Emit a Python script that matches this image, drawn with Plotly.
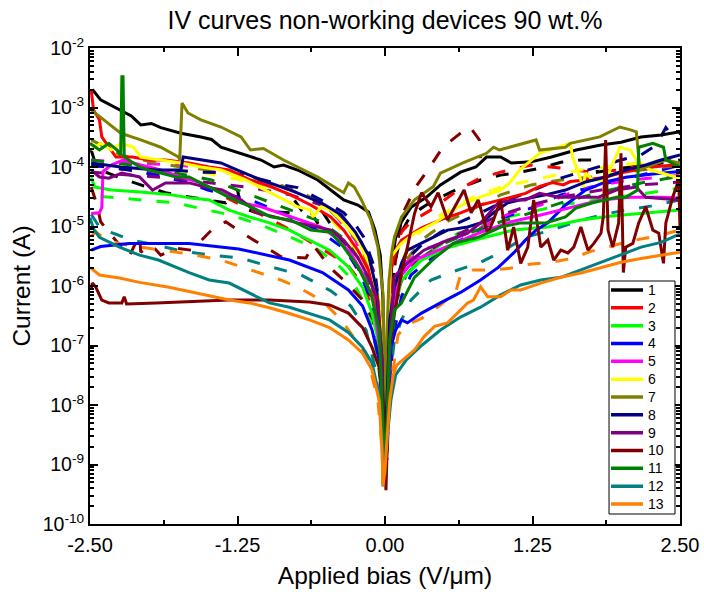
import plotly.graph_objects as go

TITLE = "IV curves non-working devices 90 wt.%"
X_TITLE = "Applied bias (V/\u03bcm)"
Y_TITLE = "Current (A)"

device_labels = ["1", "2", "3", "4", "5", "6", "7", "8", "9", "10", "11", "12", "13"]
device_colors = ["#000000", "#ff0000", "#00ff00", "#0000ff", "#ff00ff", "#ffff00",
                 "#808000", "#000080", "#800080", "#800000", "#008000", "#008080", "#ff8000"]

bias_ticks = [-2.5, -1.25, 0.0, 1.25, 2.5]
bias_ticktext = ["-2.50", "-1.25", "0.00", "1.25", "2.50"]
current_ticks = [1e-10, 1e-9, 1e-8, 1e-7, 1e-6, 1e-5, 1e-4, 1e-3, 1e-2]
current_ticktext = ["10<sup>-10</sup>", "10<sup>-9</sup>", "10<sup>-8</sup>", "10<sup>-7</sup>",
                    "10<sup>-6</sup>", "10<sup>-5</sup>", "10<sup>-4</sup>", "10<sup>-3</sup>",
                    "10<sup>-2</sup>"]

# (bias V/um, current A) for each device: solid = first sweep, dash = second sweep
dev1_solid = [(-2.49, 1.7e-3), (-2.47, 1.9e-3), (-2.41, 1.34e-3), (-2.33, 1.1e-3), (-2.24, 9.1e-4),
              (-2.15, 7.2e-4), (-2.07, 5.1e-4), (-1.98, 5.4e-4), (-1.90, 4.6e-4), (-1.73, 3.7e-4),
              (-1.56, 3.2e-4), (-1.47, 2.9e-4), (-1.39, 2.15e-4), (-1.22, 1.7e-4), (-1.05, 1.31e-4),
              (-0.94, 1.0e-4), (-0.86, 1.08e-4), (-0.74, 8.9e-5), (-0.57, 6.05e-5), (-0.46, 4.1e-5),
              (-0.35, 2.8e-5), (-0.23, 2.3e-5), (-0.14, 1.75e-5), (-0.085, 8.7e-6), (-0.04, 3.3e-6),
              (-0.017, 5.8e-7), (-0.008, 1.2e-8), (0.0, 8.1e-10), (0.017, 2.6e-8), (0.034, 5.8e-7),
              (0.06, 2.5e-6), (0.09, 6.6e-6), (0.14, 1.2e-5), (0.22, 2.1e-5), (0.35, 3.1e-5),
              (0.47, 5.0e-5), (0.64, 8.2e-5), (0.77, 1.0e-4), (0.86, 1.47e-4), (0.98, 1.47e-4),
              (1.07, 1.17e-4), (1.24, 1.22e-4), (1.41, 1.47e-4), (1.62, 1.93e-4), (1.83, 2.34e-4),
              (2.00, 2.6e-4), (2.17, 3.2e-4), (2.34, 3.45e-4), (2.50, 3.9e-4)]
dev1_dash = [(-2.49, 1.93e-4), (-2.45, 1.08e-4), (-2.41, 8.9e-5), (-2.24, 6.5e-5), (-2.07, 5.0e-5),
             (-1.86, 3.7e-5), (-1.69, 3.2e-5), (-1.52, 2.8e-5), (-1.35, 2.5e-5), (-1.25, 4.1e-5),
             (-1.22, 2.1e-5), (-1.09, 1.7e-5), (-0.92, 1.75e-5), (-0.80, 1.7e-5), (-0.77, 2.8e-5),
             (-0.71, 1.9e-5), (-0.67, 2.3e-5), (-0.56, 1.06e-5), (-0.53, 1.75e-5), (-0.37, 5.9e-6),
             (-0.25, 2.5e-6), (-0.14, 8.6e-7), (-0.06, 1.8e-7), (-0.017, 5.6e-9), (-0.008, 5.5e-10),
             (0.017, 3.8e-9), (0.04, 2.7e-7), (0.08, 2.25e-6), (0.14, 8.1e-6), (0.22, 1.56e-5),
             (0.35, 2.3e-5), (0.47, 3.1e-5), (0.64, 4.5e-5), (0.81, 6.05e-5), (0.98, 7.3e-5),
             (1.15, 8.2e-5), (1.32, 9.6e-5), (1.49, 1.2e-4), (1.66, 1.31e-4), (1.79, 1.31e-4),
             (1.80, 8.2e-5), (2.00, 9.6e-5), (2.25, 1.08e-4), (2.50, 1.31e-4)]

dev2_solid = [(-2.49, 1.97e-3), (-2.47, 9.1e-4), (-2.42, 6.2e-4), (-2.40, 3.2e-4), (-2.28, 1.47e-4),
              (-2.14, 1.47e-4), (-2.00, 1.31e-4), (-1.86, 1.31e-4), (-1.66, 1.17e-4), (-1.49, 1.0e-4),
              (-1.32, 8.9e-5), (-1.14, 6.05e-5), (-0.97, 4.7e-5), (-0.80, 3.4e-5), (-0.63, 2.3e-5),
              (-0.46, 1.45e-5), (-0.35, 8.7e-6), (-0.23, 4.0e-6), (-0.14, 1.86e-6), (-0.08, 5.8e-7),
              (-0.034, 1.0e-7), (-0.017, 2.6e-9), (0.0, 4.6e-10), (0.017, 5.6e-9), (0.034, 2.7e-7),
              (0.05, 1.86e-6), (0.09, 4.0e-6), (0.14, 5.9e-6), (0.31, 9.5e-6), (0.47, 1.29e-5),
              (0.64, 1.7e-5), (0.81, 2.3e-5), (0.98, 2.8e-5), (1.19, 3.6e-5), (1.31, 4.7e-5),
              (1.42, 5.5e-5), (1.51, 5.0e-5), (1.57, 5.7e-5), (1.70, 6.05e-5), (1.87, 6.7e-5),
              (1.99, 7.9e-5), (2.13, 8.9e-5), (2.27, 1.0e-4), (2.44, 1.08e-4), (2.50, 1.04e-4)]
dev2_dash = [(-2.49, 1.08e-4), (-2.15, 8.9e-5), (-1.81, 6.8e-5), (-1.47, 4.1e-5), (-1.22, 2.3e-5),
             (-1.01, 1.45e-5), (-0.80, 8.7e-6), (-0.54, 4.3e-6), (-0.33, 2.4e-6), (-0.20, 1.15e-6),
             (-0.10, 3.95e-7), (-0.034, 3.9e-8), (-0.008, 8.1e-10), (0.017, 3.8e-9), (0.04, 1.8e-7),
             (0.08, 3.3e-6), (0.14, 8.1e-6), (0.22, 1.2e-5), (0.39, 1.9e-5), (0.62, 4.1e-5),
             (0.81, 6.6e-5), (0.98, 8.2e-5), (1.24, 1.08e-4), (1.49, 9.6e-5), (1.75, 8.2e-5),
             (2.00, 8.9e-5), (2.25, 1.17e-4), (2.50, 1.47e-4)]

dev3_solid = [(-2.49, 6.7e-5), (-2.46, 4.6e-5), (-2.32, 4.1e-5), (-2.07, 3.8e-5), (-1.81, 3.4e-5),
              (-1.64, 3.0e-5), (-1.49, 2.8e-5), (-1.32, 1.89e-5), (-1.15, 1.45e-5), (-0.98, 1.15e-5),
              (-0.81, 8.7e-6), (-0.64, 5.9e-6), (-0.47, 4.0e-6), (-0.31, 2.1e-6), (-0.19, 9.5e-7),
              (-0.11, 3.5e-7), (-0.05, 1.0e-7), (-0.025, 1.2e-8), (-0.008, 8.1e-10), (0.017, 2.6e-9),
              (0.04, 8.4e-8), (0.08, 5.8e-7), (0.14, 1.26e-6), (0.31, 2.73e-6), (0.53, 4.4e-6),
              (0.81, 6.3e-6), (1.09, 8.7e-6), (1.38, 9.8e-6), (1.66, 1.29e-5), (1.92, 1.5e-5),
              (2.17, 1.65e-5), (2.50, 1.89e-5)]
dev3_dash = [(-2.41, 3.2e-5), (-2.07, 2.8e-5), (-1.77, 2.5e-5), (-1.56, 2.0e-5), (-1.31, 1.56e-5),
             (-1.05, 1.06e-5), (-0.80, 6.6e-6), (-0.58, 4.2e-6), (-0.42, 2.5e-6), (-0.29, 1.36e-6),
             (-0.19, 5.8e-7), (-0.10, 1.82e-7), (-0.04, 2.6e-8), (-0.008, 8.1e-10), (0.017, 1.75e-9),
             (0.04, 3.9e-8), (0.08, 3.95e-7), (0.14, 1.26e-6), (0.31, 3.0e-6), (0.62, 7.7e-6),
             (0.75, 8.7e-6), (0.90, 1.29e-5), (1.18, 1.65e-5), (1.49, 2.3e-5), (1.83, 2.8e-5),
             (2.17, 3.5e-5), (2.50, 4.4e-5)]

dev4_solid = [(-2.49, 4.0e-6), (-2.41, 4.6e-6), (-2.17, 5.2e-6), (-1.66, 5.2e-6), (-1.24, 4.2e-6),
              (-0.81, 2.73e-6), (-0.53, 1.68e-6), (-0.31, 8.6e-7), (-0.19, 4.6e-7), (-0.11, 1.82e-7),
              (-0.05, 5.7e-8), (-0.025, 8.3e-9), (-0.008, 5.5e-10), (0.017, 1.75e-9), (0.034, 1.8e-8),
              (0.05, 9.3e-8), (0.09, 1.82e-7), (0.14, 2.69e-7), (0.19, 2.4e-7), (0.31, 3.5e-7),
              (0.47, 5.2e-7), (0.64, 7.8e-7), (0.81, 1.26e-6), (0.96, 2.05e-6), (1.09, 3.6e-6),
              (1.19, 5.9e-6), (1.28, 8.7e-6), (1.38, 1.15e-5), (1.53, 2.3e-5), (1.70, 4.1e-5),
              (1.87, 5.6e-5), (2.04, 6.7e-5), (2.27, 7.6e-5), (2.50, 8.4e-5)]
dev4_dash = [(-2.49, 1.08e-4), (-2.17, 8.9e-5), (-1.94, 7.3e-5), (-1.67, 5.5e-5), (-1.50, 4.1e-5),
             (-1.14, 2.8e-5), (-0.88, 1.7e-5), (-0.71, 1.2e-5), (-0.54, 8.0e-6), (-0.33, 4.0e-6),
             (-0.23, 1.86e-6), (-0.18, 1.15e-6), (-0.12, 5.8e-7), (-0.05, 8.4e-8), (-0.017, 3.8e-9),
             (0.017, 1.19e-9), (0.04, 2.6e-8), (0.08, 1.82e-7), (0.14, 6.6e-7), (0.22, 1.53e-6),
             (0.35, 2.5e-6), (0.56, 4.9e-6), (0.77, 8.0e-6), (0.98, 1.36e-5), (1.24, 2.05e-5),
             (1.49, 3.4e-5), (1.75, 4.6e-5), (2.00, 6.05e-5), (2.25, 8.0e-5), (2.50, 1.08e-4)]

dev5_solid = [(-2.49, 1.66e-5), (-2.42, 1.7e-5), (-2.40, 2.1e-5), (-2.39, 8.4e-5), (-2.32, 1.08e-4),
              (-2.22, 1.31e-4), (-2.07, 1.08e-4), (-1.90, 8.9e-5), (-1.73, 6.8e-5), (-1.56, 5.4e-5),
              (-1.39, 3.7e-5), (-1.22, 2.5e-5), (-1.05, 2.15e-5), (-0.88, 1.66e-5), (-0.71, 1.29e-5),
              (-0.54, 9.8e-6), (-0.42, 6.6e-6), (-0.29, 3.55e-6), (-0.19, 1.65e-6), (-0.10, 5.8e-7),
              (-0.04, 8.4e-8), (-0.008, 8.1e-10), (0.017, 2.6e-9), (0.04, 8.4e-8), (0.08, 5.8e-7),
              (0.14, 1.53e-6), (0.25, 2.73e-6), (0.39, 3.6e-6), (0.56, 4.9e-6), (0.81, 8.0e-6),
              (1.07, 1.2e-5), (1.32, 1.56e-5), (1.58, 2.1e-5), (1.83, 2.8e-5), (2.08, 3.1e-5),
              (2.34, 3.1e-5), (2.50, 3.0e-5)]
dev5_dash = [(-2.49, 1.31e-4), (-2.15, 1.17e-4), (-1.73, 1.08e-4), (-1.39, 8.2e-5), (-1.14, 6.8e-5),
             (-0.88, 4.6e-5), (-0.63, 3.1e-5), (-0.42, 1.56e-5), (-0.25, 5.9e-6), (-0.12, 1.53e-6),
             (-0.034, 5.7e-8), (-0.008, 8.1e-10), (0.017, 3.8e-9), (0.05, 1.82e-7), (0.09, 1.04e-6),
             (0.18, 2.5e-6), (0.31, 4.0e-6), (0.56, 5.9e-6), (0.81, 9.5e-6), (1.07, 1.7e-5),
             (1.32, 2.3e-5), (1.58, 3.7e-5), (1.83, 5.0e-5), (2.08, 6.05e-5), (2.34, 6.8e-5),
             (2.50, 7.3e-5)]

dev6_solid = [(-2.49, 1.93e-4), (-2.41, 2.5e-4), (-2.32, 1.93e-4), (-2.24, 2.5e-4), (-2.13, 2.15e-4),
              (-2.07, 1.47e-4), (-1.90, 1.31e-4), (-1.73, 1.17e-4), (-1.56, 1.0e-4), (-1.39, 8.9e-5),
              (-1.18, 6.05e-5), (-0.97, 3.65e-5), (-0.80, 2.5e-5), (-0.74, 2.15e-5), (-0.63, 1.89e-5),
              (-0.61, 1.45e-5), (-0.54, 2.15e-5), (-0.46, 1.89e-5), (-0.35, 1.15e-5), (-0.23, 5.9e-6),
              (-0.12, 2.1e-6), (-0.05, 5.8e-7), (-0.017, 5.7e-8), (0.0, 8.1e-10), (0.017, 5.6e-9),
              (0.034, 5.8e-7), (0.05, 3.1e-6), (0.14, 5.2e-6), (0.25, 7.7e-6), (0.42, 1.15e-5),
              (0.62, 2.15e-5), (0.81, 3.15e-5), (0.98, 4.1e-5), (1.06, 5.5e-5), (1.14, 8.9e-5),
              (1.31, 1.7e-4), (1.57, 2.5e-4), (1.59, 1.47e-4), (1.68, 4.6e-5), (1.70, 7.9e-5),
              (1.76, 6.05e-5), (1.87, 6.05e-5), (1.99, 2.15e-4), (2.08, 1.93e-4), (2.13, 1.31e-4),
              (2.25, 8.9e-5), (2.50, 6.5e-5)]
dev6_dash = [(-2.49, 1.08e-4), (-2.07, 9.6e-5), (-1.56, 8.2e-5), (-1.22, 6.05e-5), (-0.88, 4.1e-5),
             (-0.54, 1.89e-5), (-0.33, 7.2e-6), (-0.19, 2.5e-6), (-0.085, 5.8e-7), (-0.025, 2.6e-8),
             (-0.008, 8.1e-10), (0.017, 2.6e-9), (0.05, 1.82e-7), (0.11, 1.86e-6), (0.22, 5.9e-6),
             (0.47, 1.56e-5), (0.73, 3.0e-5), (0.98, 4.6e-5), (1.32, 6.5e-5), (1.66, 8.9e-5),
             (2.00, 1.08e-4), (2.34, 1.31e-4), (2.50, 1.41e-4)]

dev7_solid = [(-2.49, 9.1e-4), (-2.41, 6.9e-4), (-2.24, 3.7e-4), (-2.07, 2.85e-4), (-1.90, 2.15e-4),
              (-1.75, 1.47e-4), (-1.74, 1.31e-4), (-1.72, 1.19e-3), (-1.67, 8.1e-4), (-1.56, 6.2e-4),
              (-1.39, 4.7e-4), (-1.22, 3.2e-4), (-1.14, 1.93e-4), (-1.03, 2.05e-4), (-0.86, 1.31e-4),
              (-0.74, 1.0e-4), (-0.57, 6.8e-5), (-0.35, 3.7e-5), (-0.31, 5.4e-5), (-0.26, 4.6e-5),
              (-0.20, 2.8e-5), (-0.12, 1.29e-5), (-0.06, 4.5e-6), (-0.017, 7.5e-7), (0.0, 5.6e-9),
              (0.017, 1.82e-7), (0.034, 1.26e-6), (0.06, 4.0e-6), (0.08, 6.6e-6), (0.14, 1.45e-5),
              (0.25, 2.8e-5), (0.41, 4.7e-5), (0.47, 7.9e-5), (0.66, 1.17e-4), (0.86, 1.7e-4),
              (0.92, 2.15e-4), (0.97, 1.93e-4), (1.28, 2.85e-4), (1.31, 1.93e-4), (1.53, 2.15e-4),
              (1.57, 2.5e-4), (1.82, 3.2e-4), (1.99, 4.7e-4), (2.08, 4.2e-4), (2.13, 3.9e-4),
              (2.16, 8.9e-5), (2.21, 1.0e-4), (2.38, 1.31e-4), (2.50, 1.17e-4)]
dev7_dash = [(-2.49, 2.85e-4), (-2.24, 1.59e-4), (-1.98, 1.22e-4), (-1.73, 1.0e-4), (-1.47, 8.9e-5),
             (-1.22, 7.3e-5), (-0.97, 5.6e-5), (-0.71, 3.8e-5), (-0.50, 2.15e-5), (-0.33, 1.06e-5),
             (-0.19, 4.0e-6), (-0.09, 1.04e-6), (-0.034, 1.24e-7), (-0.008, 1.75e-9), (0.017, 3.8e-9),
             (0.05, 1.82e-7), (0.10, 1.26e-6), (0.18, 2.73e-6), (0.31, 5.9e-6), (0.52, 1.2e-5),
             (0.73, 1.89e-5), (0.98, 3.4e-5), (1.24, 5.0e-5), (1.49, 6.05e-5), (1.83, 7.0e-5),
             (2.17, 8.9e-5), (2.50, 1.08e-4)]

dev8_solid = [(-2.49, 1.17e-4), (-2.24, 1.0e-4), (-1.94, 8.9e-5), (-1.73, 8.9e-5), (-1.71, 1.47e-4),
              (-1.56, 1.31e-4), (-1.39, 1.17e-4), (-1.25, 8.9e-5), (-1.05, 6.05e-5), (-0.80, 4.1e-5),
              (-0.54, 2.5e-5), (-0.37, 1.56e-5), (-0.25, 8.0e-6), (-0.14, 3.3e-6), (-0.07, 8.6e-7),
              (-0.025, 5.7e-8), (-0.008, 1.19e-9), (0.017, 1.2e-8), (0.04, 2.7e-7), (0.08, 9.5e-7),
              (0.14, 2.4e-6), (0.19, 4.0e-6), (0.36, 5.9e-6), (0.53, 8.7e-6), (0.70, 9.8e-6),
              (0.81, 1.15e-5), (0.92, 1.7e-5), (1.04, 2.5e-5), (1.15, 2.8e-5), (1.36, 3.4e-5),
              (1.53, 4.1e-5), (1.70, 5.6e-5), (1.87, 6.8e-5), (2.04, 8.9e-5), (2.21, 1.08e-4),
              (2.34, 1.31e-4), (2.50, 1.59e-4)]
dev8_dash = [(-2.49, 1.08e-4), (-2.15, 8.9e-5), (-1.81, 8.9e-5), (-1.56, 8.2e-5), (-1.28, 7.9e-5),
             (-1.03, 6.05e-5), (-0.88, 5.0e-5), (-0.74, 4.5e-5), (-0.60, 3.2e-5), (-0.46, 2.3e-5),
             (-0.35, 1.7e-5), (-0.25, 1.06e-5), (-0.18, 6.6e-6), (-0.09, 2.05e-6), (-0.034, 2.7e-7),
             (-0.008, 1.19e-9), (0.017, 3.8e-9), (0.05, 1.24e-7), (0.10, 8.6e-7), (0.18, 2.73e-6),
             (0.31, 4.9e-6), (0.47, 8.0e-6), (0.64, 1.2e-5), (0.81, 1.7e-5), (0.98, 2.5e-5),
             (1.15, 3.4e-5), (1.32, 4.6e-5), (1.49, 6.5e-5), (1.66, 8.2e-5), (1.83, 1.04e-4),
             (2.00, 1.31e-4), (2.17, 1.59e-4), (2.30, 2.34e-4), (2.38, 4.6e-4), (2.44, 3.2e-4),
             (2.50, 3.7e-4)]

dev9_solid = [(-2.49, 8.9e-5), (-2.42, 6.8e-5), (-2.34, 6.5e-5), (-2.23, 7.9e-5), (-2.08, 6.8e-5),
              (-1.97, 4.1e-5), (-1.86, 5.4e-5), (-1.66, 5.4e-5), (-1.52, 4.6e-5), (-1.38, 4.1e-5),
              (-1.22, 2.8e-5), (-1.08, 1.7e-5), (-0.91, 1.4e-5), (-0.74, 1.15e-5), (-0.57, 9.8e-6),
              (-0.46, 8.7e-6), (-0.35, 5.9e-6), (-0.23, 3.0e-6), (-0.14, 1.4e-6), (-0.06, 5.8e-7),
              (-0.025, 5.7e-8), (-0.008, 1.19e-9), (0.017, 2.6e-9), (0.04, 1.24e-7), (0.08, 1.45e-6),
              (0.19, 2.4e-6), (0.33, 4.0e-6), (0.53, 5.9e-6), (0.70, 7.7e-6), (0.81, 1.15e-5),
              (0.96, 2.5e-5), (1.09, 2.8e-5), (1.19, 2.8e-5), (1.31, 3.6e-5), (1.47, 3.1e-5),
              (1.59, 3.1e-5), (1.81, 3.1e-5), (1.96, 4.1e-5), (2.13, 4.6e-5), (2.21, 3.1e-5),
              (2.50, 2.8e-5)]
dev9_dash = [(-2.49, 8.2e-5), (-2.15, 7.3e-5), (-1.81, 6.5e-5), (-1.47, 5.4e-5), (-1.14, 4.5e-5),
             (-0.80, 3.4e-5), (-0.54, 2.3e-5), (-0.35, 1.29e-5), (-0.20, 5.5e-6), (-0.10, 1.86e-6),
             (-0.034, 1.82e-7), (-0.008, 8.1e-10), (0.017, 2.6e-9), (0.05, 1.24e-7), (0.09, 7.1e-7),
             (0.18, 1.86e-6), (0.31, 3.3e-6), (0.52, 5.9e-6), (0.73, 9.5e-6), (0.98, 1.56e-5),
             (1.24, 2.3e-5), (1.49, 3.1e-5), (1.83, 4.1e-5), (2.17, 5.0e-5), (2.50, 5.6e-5)]

dev10_solid = [(-2.49, 8.6e-7), (-2.48, 1.12e-6), (-2.45, 9.5e-7), (-2.40, 5.8e-7), (-2.34, 5.2e-7),
               (-2.23, 5.2e-7), (-2.21, 6.6e-7), (-2.19, 5.0e-7), (-1.94, 5.2e-7), (-1.66, 5.4e-7),
               (-1.32, 5.8e-7), (-0.98, 5.8e-7), (-0.81, 5.6e-7), (-0.64, 5.4e-7), (-0.47, 4.8e-7),
               (-0.31, 3.5e-7), (-0.19, 2.0e-7), (-0.11, 9.3e-8), (-0.05, 4.3e-8), (-0.017, 1.2e-8),
               (0.008, 3.7e-10), (0.025, 5.6e-9), (0.034, 7.5e-8), (0.08, 3.5e-7), (0.14, 1.7e-6),
               (0.19, 4.5e-6), (0.25, 1.65e-5), (0.31, 3.7e-5), (0.39, 2.15e-5), (0.45, 3.7e-5),
               (0.53, 1.29e-5), (0.62, 2.8e-5), (0.67, 4.1e-5), (0.73, 1.7e-5), (0.79, 2.8e-5),
               (0.87, 7.7e-6), (0.92, 1.29e-5), (0.98, 2.8e-5), (1.04, 4.0e-6), (1.09, 9.8e-6),
               (1.15, 2.4e-6), (1.21, 4.5e-6), (1.26, 2.8e-5), (1.32, 4.5e-6), (1.38, 5.9e-6),
               (1.43, 2.73e-6), (1.49, 4.0e-6), (1.55, 3.6e-6), (1.60, 4.5e-6), (1.66, 9.8e-6),
               (1.72, 4.0e-6), (1.77, 5.2e-6), (1.83, 7.7e-6), (1.85, 1.45e-5), (1.87, 2.85e-4),
               (1.89, 8.7e-6), (1.93, 4.5e-6), (1.98, 1.15e-5), (2.00, 1.7e-4), (2.02, 1.68e-6),
               (2.04, 4.5e-6), (2.10, 5.2e-6), (2.15, 1.15e-5), (2.21, 2.15e-5), (2.27, 8.7e-6),
               (2.32, 7.7e-6), (2.36, 2.4e-6), (2.38, 1.15e-5), (2.44, 3.2e-5), (2.49, 6.05e-5),
               (2.50, 8.7e-6)]
dev10_dash = [(-2.49, 4.6e-5), (-2.44, 2.3e-5), (-2.41, 1.2e-5), (-2.32, 7.2e-6), (-2.17, 3.1e-6),
              (-2.08, 7.2e-6), (-2.07, 3.7e-6), (-1.98, 4.9e-6), (-1.90, 3.3e-6), (-1.77, 4.3e-6),
              (-1.64, 4.0e-6), (-1.47, 8.7e-6), (-1.35, 1.2e-5), (-1.22, 8.0e-6), (-1.05, 4.9e-6),
              (-0.88, 3.1e-6), (-0.67, 2.95e-6), (-0.61, 4.9e-6), (-0.46, 2.0e-6), (-0.33, 1.15e-6),
              (-0.20, 6.1e-7), (-0.10, 2.69e-7), (-0.034, 3.9e-8), (-0.008, 8.1e-10), (0.017, 2.6e-9),
              (0.04, 1.82e-7), (0.08, 1.86e-6), (0.11, 5.9e-6), (0.15, 1.65e-5), (0.26, 4.6e-5),
              (0.38, 1.0e-4), (0.49, 2.15e-4), (0.64, 3.7e-4), (0.72, 4.7e-4), (0.80, 2.85e-4),
              (0.81, 1.41e-4)]

dev11_solid = [(-2.50, 2.5e-4), (-2.42, 1.93e-4), (-2.34, 2.5e-4), (-2.27, 1.93e-4), (-2.24, 1.59e-4),
               (-2.23, 3.3e-3), (-2.22, 3.3e-3), (-2.21, 1.47e-4), (-2.08, 1.0e-4), (-2.00, 8.9e-5),
               (-1.77, 6.8e-5), (-1.66, 6.8e-5), (-1.49, 4.6e-5), (-1.31, 3.0e-5), (-1.14, 2.15e-5),
               (-0.97, 1.45e-5), (-0.80, 1.29e-5), (-0.63, 8.7e-6), (-0.46, 8.0e-6), (-0.35, 4.5e-6),
               (-0.23, 2.1e-6), (-0.12, 7.7e-7), (-0.05, 1.82e-7), (-0.017, 5.6e-9), (0.0, 6.7e-10),
               (0.017, 5.6e-9), (0.04, 1.24e-7), (0.08, 3.95e-7), (0.14, 5.2e-7), (0.25, 1.4e-6),
               (0.42, 2.95e-6), (0.58, 5.2e-6), (0.79, 6.6e-6), (0.98, 9.8e-6), (1.15, 1.15e-5),
               (1.36, 1.15e-5), (1.53, 1.45e-5), (1.62, 2.05e-5), (1.76, 2.5e-5), (1.87, 2.8e-5),
               (1.96, 3.1e-5), (2.04, 3.1e-5), (2.14, 4.1e-5), (2.15, 2.15e-4), (2.27, 2.5e-4),
               (2.36, 2.15e-4), (2.38, 1.31e-4), (2.50, 1.0e-4)]
dev11_dash = [(-2.49, 1.31e-4), (-2.15, 1.08e-4), (-1.81, 8.2e-5), (-1.47, 6.05e-5), (-1.14, 3.4e-5),
              (-0.80, 1.89e-5), (-0.54, 1.2e-5), (-0.33, 5.9e-6), (-0.19, 2.25e-6), (-0.085, 5.8e-7),
              (-0.025, 2.6e-8), (-0.008, 8.1e-10), (0.017, 2.6e-9), (0.05, 8.4e-8), (0.10, 5.8e-7),
              (0.18, 1.53e-6), (0.31, 3.0e-6), (0.47, 4.9e-6), (0.73, 8.0e-6), (0.98, 1.2e-5),
              (1.24, 1.7e-5), (1.49, 2.5e-5), (1.83, 3.8e-5), (2.17, 5.4e-5), (2.50, 7.0e-5)]

dev12_solid = [(-2.50, 1.4e-5), (-2.47, 9.1e-6), (-2.42, 6.6e-6), (-2.25, 4.5e-6), (-2.08, 3.3e-6),
               (-1.92, 2.73e-6), (-1.66, 1.68e-6), (-1.49, 1.26e-6), (-1.32, 1.12e-6), (-1.15, 7.7e-7),
               (-0.98, 5.2e-7), (-0.81, 4.4e-7), (-0.64, 3.45e-7), (-0.47, 2.69e-7), (-0.31, 1.66e-7),
               (-0.19, 9.3e-8), (-0.11, 5.1e-8), (-0.05, 1.45e-8), (-0.025, 2.6e-9), (-0.017, 4.3e-10),
               (0.0, 1.19e-9), (0.017, 2.6e-9), (0.05, 1.2e-8), (0.09, 3.2e-8), (0.18, 5.7e-8),
               (0.31, 1.0e-7), (0.47, 1.82e-7), (0.64, 3.0e-7), (0.81, 4.4e-7), (0.98, 7.1e-7),
               (1.15, 1.04e-6), (1.32, 1.26e-6), (1.49, 1.4e-6), (1.66, 1.86e-6), (1.83, 2.5e-6),
               (2.00, 3.4e-6), (2.17, 4.5e-6), (2.34, 5.4e-6), (2.50, 7.5e-6)]
dev12_dash = [(-2.49, 1.6e-5), (-2.41, 9.1e-6), (-2.28, 7.4e-6), (-2.15, 5.9e-6), (-1.98, 5.1e-6),
              (-1.73, 3.9e-6), (-1.47, 3.3e-6), (-1.22, 2.95e-6), (-0.97, 2.1e-6), (-0.71, 1.53e-6),
              (-0.46, 8.3e-7), (-0.29, 4.6e-7), (-0.16, 1.82e-7), (-0.08, 3.9e-8), (-0.025, 3.8e-9),
              (-0.008, 5.5e-10), (0.017, 2.6e-9), (0.04, 2.6e-8), (0.08, 1.24e-7), (0.14, 2.69e-7),
              (0.22, 5.8e-7), (0.39, 1.26e-6), (0.56, 1.7e-6), (0.81, 2.5e-6), (0.98, 3.7e-6),
              (1.19, 6.6e-6), (1.41, 8.7e-6), (1.62, 1.2e-5), (1.83, 1.56e-5), (2.04, 1.89e-5),
              (2.25, 2.2e-5), (2.50, 2.8e-5)]

dev13_solid = [(-2.50, 2.05e-6), (-2.42, 1.53e-6), (-2.25, 1.36e-6), (-2.08, 1.15e-6), (-1.83, 9.5e-7),
               (-1.58, 7.5e-7), (-1.32, 5.8e-7), (-1.15, 5.2e-7), (-0.98, 4.3e-7), (-0.81, 3.45e-7),
               (-0.64, 2.69e-7), (-0.47, 2.0e-7), (-0.31, 1.24e-7), (-0.19, 7.4e-8), (-0.11, 3.9e-8),
               (-0.05, 1.2e-8), (-0.025, 1.75e-9), (-0.017, 4.3e-10), (0.0, 8.1e-10), (0.017, 2.6e-9),
               (0.04, 1.2e-8), (0.07, 3.2e-8), (0.10, 4.7e-8), (0.25, 8.4e-8), (0.33, 1.4e-7),
               (0.42, 2.1e-7), (0.53, 2.4e-7), (0.62, 3.6e-7), (0.70, 5.2e-7), (0.75, 5.8e-7),
               (0.81, 9.7e-7), (0.87, 6.6e-7), (0.98, 6.6e-7), (1.07, 8.6e-7), (1.15, 8.6e-7),
               (1.32, 1.12e-6), (1.49, 1.4e-6), (1.66, 1.65e-6), (1.83, 2.05e-6), (2.00, 2.5e-6),
               (2.17, 2.9e-6), (2.34, 3.3e-6), (2.50, 3.7e-6)]
dev13_dash = [(-2.49, 6.9e-6), (-2.45, 8.1e-6), (-2.36, 5.9e-6), (-2.24, 5.1e-6), (-2.07, 4.5e-6),
              (-1.90, 4.0e-6), (-1.64, 3.4e-6), (-1.39, 2.73e-6), (-1.14, 1.86e-6), (-0.88, 1.26e-6),
              (-0.71, 8.9e-7), (-0.54, 5.8e-7), (-0.37, 2.69e-7), (-0.25, 1.24e-7), (-0.14, 5.3e-8),
              (-0.06, 1.2e-8), (-0.017, 1.19e-9), (-0.008, 4.6e-10), (0.017, 1.75e-9), (0.04, 1.2e-8),
              (0.08, 5.7e-8), (0.11, 1.5e-7), (0.18, 2.2e-7), (0.31, 2.85e-7), (0.47, 4.8e-7),
              (0.60, 8.0e-7), (0.64, 1.53e-6), (0.73, 1.86e-6), (0.90, 1.86e-6), (1.07, 2.0e-6),
              (1.24, 2.35e-6), (1.41, 2.5e-6), (1.58, 2.9e-6), (1.75, 3.85e-6), (1.92, 4.7e-6),
              (2.08, 5.7e-6), (2.30, 6.9e-6), (2.50, 8.7e-6)]

solid_sweeps = [dev1_solid, dev2_solid, dev3_solid, dev4_solid, dev5_solid, dev6_solid, dev7_solid,
                dev8_solid, dev9_solid, dev10_solid, dev11_solid, dev12_solid, dev13_solid]
dash_sweeps = [dev1_dash, dev2_dash, dev3_dash, dev4_dash, dev5_dash, dev6_dash, dev7_dash,
               dev8_dash, dev9_dash, dev10_dash, dev11_dash, dev12_dash, dev13_dash]

FONT = "Arial, 'Liberation Sans', sans-serif"
LINE_W = 3

fig = go.Figure()

# second sweeps (dashed) underneath
for label, color, sweep in zip(device_labels, device_colors, dash_sweeps):
    fig.add_trace(go.Scatter(
        x=[p[0] for p in sweep], y=[p[1] for p in sweep], mode="lines",
        line=dict(color=color, width=LINE_W, dash="13px,15px"),
        name=label, showlegend=False, hoverinfo="skip"))

# first sweeps (solid)
for label, color, sweep in zip(device_labels, device_colors, solid_sweeps):
    fig.add_trace(go.Scatter(
        x=[p[0] for p in sweep], y=[p[1] for p in sweep], mode="lines",
        line=dict(color=color, width=LINE_W), name=label, showlegend=False))

# compact boxed key in the lower-right corner of the plot (paper coordinates)
KEY_X0, KEY_X1 = 0.8797, 0.9915
KEY_Y0, KEY_Y1 = 0.021, 0.5105
KEY_ROW = 0.03746
KEY_FIRST = 0.4916
KEY_LINE_X = (0.8831, 0.9373)
KEY_TEXT_X = 0.9424

shapes = [dict(type="rect", xref="paper", yref="paper", x0=KEY_X0, x1=KEY_X1, y0=KEY_Y0, y1=KEY_Y1,
               line=dict(color="black", width=1), fillcolor="white", layer="above")]
annotations = []
for k, (label, color) in enumerate(zip(device_labels, device_colors)):
    yk = KEY_FIRST - k * KEY_ROW
    shapes.append(dict(type="line", xref="paper", yref="paper",
                       x0=KEY_LINE_X[0], x1=KEY_LINE_X[1], y0=yk, y1=yk,
                       line=dict(color=color, width=3.5), layer="above"))
    annotations.append(dict(xref="paper", yref="paper", x=KEY_TEXT_X, y=yk, text=label,
                            showarrow=False, xanchor="left", yanchor="middle",
                            font=dict(family=FONT, size=14, color="black")))

axis_common = dict(
    showline=True, linecolor="black", linewidth=2, mirror="ticks",
    ticks="inside", tickcolor="black", tickwidth=1.5, ticklen=8,
    showgrid=False, zeroline=False, automargin=False,
)

fig.update_xaxes(
    range=[-2.5, 2.5], tickvals=bias_ticks, ticktext=bias_ticktext,
    tickfont=dict(family=FONT, size=20, color="black"), ticklabelstandoff=2,
    minor=dict(ticks="inside", ticklen=4, tickcolor="black", dtick=0.625, tick0=0, showgrid=False),
    title=dict(text=X_TITLE, font=dict(family=FONT, size=24.5, color="black"), standoff=12),
    **axis_common)

fig.update_yaxes(
    type="log", range=[-10, -2], tickvals=current_ticks, ticktext=current_ticktext,
    tickfont=dict(family=FONT, size=19.5, color="black"),
    minor=dict(ticks="inside", ticklen=4, tickcolor="black", dtick="D1", showgrid=False),
    title=dict(text=Y_TITLE, font=dict(family=FONT, size=24.5, color="black"), standoff=5),
    **axis_common)

fig.update_layout(
    width=704, height=601,
    margin=dict(l=90, r=24, t=48, b=77, autoexpand=False),
    paper_bgcolor="white", plot_bgcolor="white",
    title=dict(text=TITLE, x=(90 + 680) / 2 / 704, xanchor="center",
               y=1 - 20 / 601, yanchor="middle",
               font=dict(family=FONT, size=25, color="black")),
    shapes=shapes,
    annotations=annotations,
    showlegend=False,
)

fig.write_html("out.html")
